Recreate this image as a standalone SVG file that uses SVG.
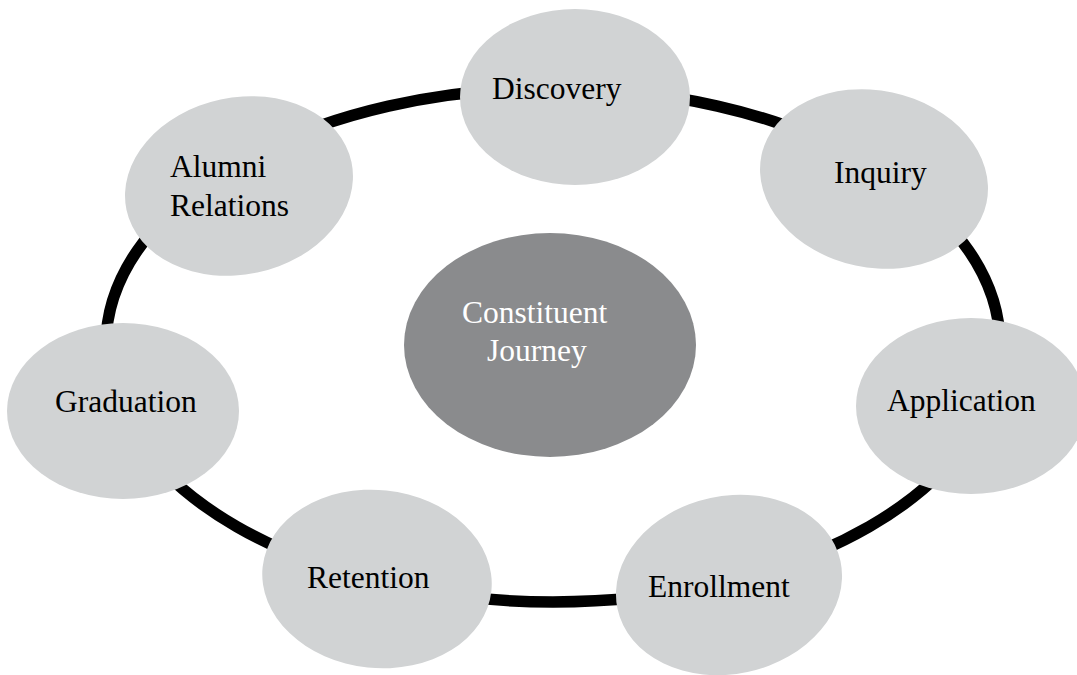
<svg xmlns="http://www.w3.org/2000/svg" width="1077" height="675" viewBox="0 0 1077 675">
  <style>
    .stage { fill: #D1D3D4; }
    .hub { fill: #8A8B8D; }
    .label { font-family: "Liberation Serif", "Times New Roman", serif; font-size: 31.5px; fill: #000000; }
    .hub-label { font-family: "Liberation Serif", "Times New Roman", serif; font-size: 31.5px; fill: #FFFFFF; }
    .ring { fill: none; stroke: #000000; stroke-width: 11.5; }
  </style>
  <rect x="0" y="0" width="1077" height="675" fill="#FFFFFF"/>

  <!-- cycle ring linking the stages -->
  <g id="connectors">
    <ellipse class="ring" cx="553" cy="345" rx="447" ry="257"/>
  </g>

  <!-- hub -->
  <g id="node-constituent-journey">
    <ellipse class="hub" cx="550" cy="345" rx="146" ry="112"/>
    <text class="hub-label" x="462" y="323">Constituent</text>
    <text class="hub-label" x="487" y="361">Journey</text>
  </g>

  <!-- stages around the ring -->
  <g id="node-discovery">
    <ellipse class="stage" cx="575" cy="97" rx="115" ry="88"/>
    <text class="label" x="492" y="99">Discovery</text>
  </g>

  <g id="node-inquiry">
    <ellipse class="stage" cx="874" cy="179" rx="115" ry="88.5" transform="rotate(12 874 179)"/>
    <text class="label" x="834" y="183">Inquiry</text>
  </g>

  <g id="node-application">
    <ellipse class="stage" cx="971" cy="406" rx="115" ry="88"/>
    <text class="label" x="887" y="411">Application</text>
  </g>

  <g id="node-enrollment">
    <ellipse class="stage" cx="729" cy="585" rx="114" ry="89" transform="rotate(-12 729 585)"/>
    <text class="label" x="648" y="597">Enrollment</text>
  </g>

  <g id="node-retention">
    <ellipse class="stage" cx="377" cy="579" rx="115" ry="89" transform="rotate(6 377 579)"/>
    <text class="label" x="307" y="588">Retention</text>
  </g>

  <g id="node-graduation">
    <ellipse class="stage" cx="123" cy="411" rx="116" ry="88"/>
    <text class="label" x="55" y="412">Graduation</text>
  </g>

  <g id="node-alumni-relations">
    <ellipse class="stage" cx="239" cy="186" rx="115" ry="88.5" transform="rotate(-12 239 186)"/>
    <text class="label" x="170" y="177">Alumni</text>
    <text class="label" x="170" y="216">Relations</text>
  </g>
</svg>
